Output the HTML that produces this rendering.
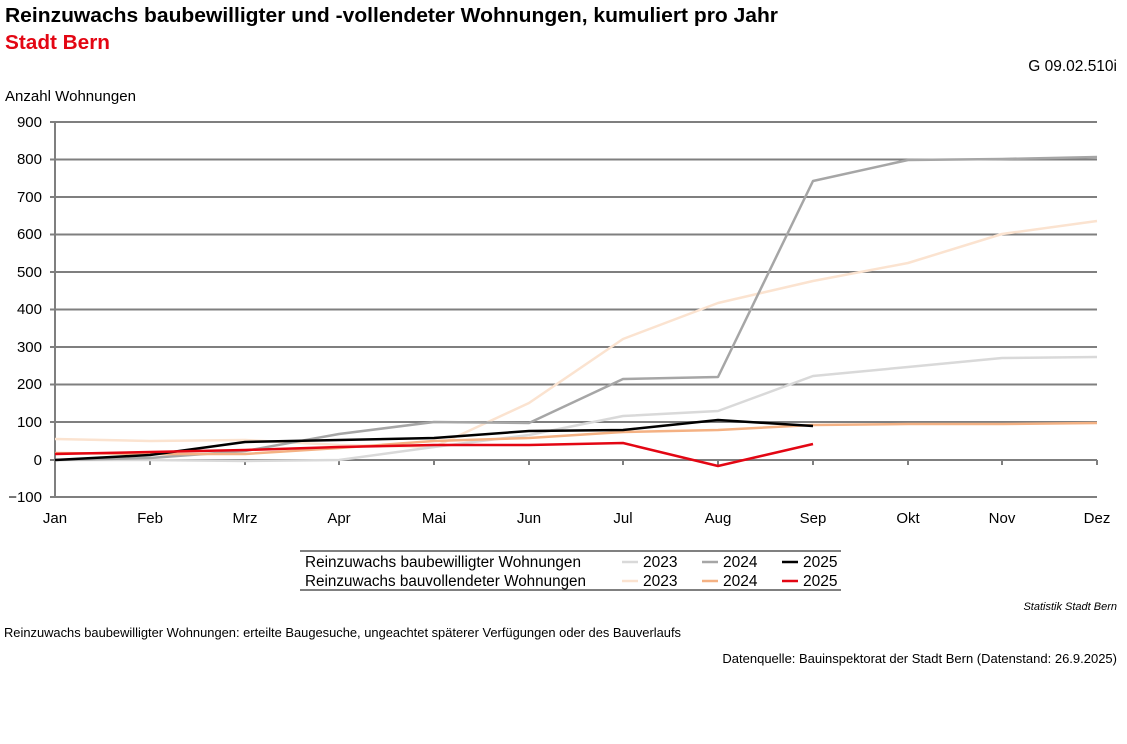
<!DOCTYPE html>
<html><head><meta charset="utf-8"><style>
body{margin:0;background:#fff;font-family:"Liberation Sans",sans-serif;}
</style></head><body>
<svg width="1127" height="739" xmlns="http://www.w3.org/2000/svg" font-family="Liberation Sans, sans-serif">
<text x="5" y="22" font-size="20.5" font-weight="bold" fill="#000" textLength="773" lengthAdjust="spacingAndGlyphs">Reinzuwachs baubewilligter und -vollendeter Wohnungen, kumuliert pro Jahr</text>
<text x="5" y="49" font-size="20.5" font-weight="bold" fill="#e30613" textLength="105" lengthAdjust="spacingAndGlyphs">Stadt Bern</text>
<text x="1117" y="71" font-size="15.5" text-anchor="end">G 09.02.510i</text>
<text x="5" y="101" font-size="15" textLength="131" lengthAdjust="spacingAndGlyphs">Anzahl Wohnungen</text>
<g stroke="#7f7f7f" stroke-width="2">
<line x1="50" y1="122" x2="1097" y2="122"/><line x1="50" y1="159.5" x2="1097" y2="159.5"/>
<line x1="50" y1="197" x2="1097" y2="197"/><line x1="50" y1="234.5" x2="1097" y2="234.5"/>
<line x1="50" y1="272" x2="1097" y2="272"/><line x1="50" y1="309.5" x2="1097" y2="309.5"/>
<line x1="50" y1="347" x2="1097" y2="347"/><line x1="50" y1="384.5" x2="1097" y2="384.5"/>
<line x1="50" y1="422" x2="1097" y2="422"/><line x1="50" y1="460" x2="1097" y2="460"/>
<line x1="50" y1="497" x2="1097" y2="497"/>
<line x1="55" y1="122" x2="55" y2="497"/>
<g><line x1="150" y1="460" x2="150" y2="465"/><line x1="245" y1="460" x2="245" y2="465"/><line x1="339" y1="460" x2="339" y2="465"/><line x1="434" y1="460" x2="434" y2="465"/><line x1="529" y1="460" x2="529" y2="465"/><line x1="623" y1="460" x2="623" y2="465"/><line x1="718" y1="460" x2="718" y2="465"/><line x1="813" y1="460" x2="813" y2="465"/><line x1="908" y1="460" x2="908" y2="465"/><line x1="1002" y1="460" x2="1002" y2="465"/><line x1="1097" y1="460" x2="1097" y2="465"/></g>
</g>
<g font-size="15" text-anchor="end">
<text x="42" y="127">900</text><text x="42" y="164">800</text><text x="42" y="202">700</text><text x="42" y="239">600</text><text x="42" y="277">500</text><text x="42" y="314">400</text><text x="42" y="352">300</text><text x="42" y="389">200</text><text x="42" y="427">100</text><text x="42" y="465">0</text><text x="42" y="502">−100</text>
</g>
<g font-size="15" text-anchor="middle">
<text x="55" y="523">Jan</text><text x="150" y="523">Feb</text><text x="245" y="523">Mrz</text><text x="339" y="523">Apr</text><text x="434" y="523">Mai</text><text x="529" y="523">Jun</text><text x="623" y="523">Jul</text><text x="718" y="523">Aug</text><text x="813" y="523">Sep</text><text x="908" y="523">Okt</text><text x="1002" y="523">Nov</text><text x="1097" y="523">Dez</text>
</g>
<g fill="none" stroke-width="2.5" stroke-linejoin="round">
<polyline stroke="#fbe3d0" points="55,439 150,441 245,440 339,445 434,447 529,403 623,339 718,303 813,281 908,263 1002,234 1097,221"/>
<polyline stroke="#d9d9d9" points="55,460 150,460 245,461 339,460 434,447 529,435 623,416 718,411 813,376 908,367 1002,358 1097,357"/>
<polyline stroke="#a6a6a6" points="55,460 150,458 245,451 339,434 434,422 529,423 623,379 718,377 813,181 908,160 1002,159 1097,157"/>
<polyline stroke="#f4b183" points="55,453 150,454 245,454 339,448 434,441 529,438 623,432 718,430 813,425 908,424 1002,424 1097,423"/>
<polyline stroke="#000" points="55,460 150,455 245,442 339,440 434,438 529,431 623,430 718,420 813,426"/>
<polyline stroke="#e30613" points="55,454 150,452 245,450 339,447 434,445 529,445 623,443 718,466 813,444"/>
</g>
<line x1="300" y1="551" x2="841" y2="551" stroke="#000"/>
<line x1="300" y1="590" x2="841" y2="590" stroke="#000"/>
<g font-size="15.5">
<text x="305" y="567" textLength="276" lengthAdjust="spacingAndGlyphs">Reinzuwachs baubewilligter Wohnungen</text>
<text x="305" y="586" textLength="281" lengthAdjust="spacingAndGlyphs">Reinzuwachs bauvollendeter Wohnungen</text>
<text x="643" y="567">2023</text><text x="723" y="567">2024</text><text x="803" y="567">2025</text>
<text x="643" y="586">2023</text><text x="723" y="586">2024</text><text x="803" y="586">2025</text>
</g>
<g stroke-width="2.5">
<line x1="622" y1="562" x2="638" y2="562" stroke="#d9d9d9"/><line x1="702" y1="562" x2="718" y2="562" stroke="#a6a6a6"/><line x1="782" y1="562" x2="798" y2="562" stroke="#000"/>
<line x1="622" y1="581" x2="638" y2="581" stroke="#fbe3d0"/><line x1="702" y1="581" x2="718" y2="581" stroke="#f4b183"/><line x1="782" y1="581" x2="798" y2="581" stroke="#e30613"/>
</g>
<text x="1117" y="610" font-size="11" font-style="italic" text-anchor="end">Statistik Stadt Bern</text>
<text x="4" y="637" font-size="12.9" textLength="677" lengthAdjust="spacingAndGlyphs">Reinzuwachs baubewilligter Wohnungen: erteilte Baugesuche, ungeachtet späterer Verfügungen oder des Bauverlaufs</text>
<text x="1117" y="663" font-size="13" text-anchor="end">Datenquelle: Bauinspektorat der Stadt Bern (Datenstand: 26.9.2025)</text>
</svg>
</body></html>
